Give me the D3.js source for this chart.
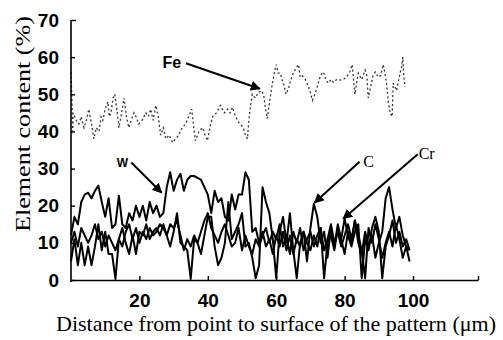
<!DOCTYPE html>
<html><head><meta charset="utf-8">
<script src="https://cdn.jsdelivr.net/npm/d3@7"></script>
<style>body{margin:0;background:#fff}svg{display:block}</style>
</head><body>
<svg id="c" width="503" height="340"></svg>
<script>
// ---- data ----
const yTicks = [0, 10, 20, 30, 40, 50, 60, 70];
const xTicks = [20, 40, 60, 80, 100];
const xLabel = "Distance from point to surface of the pattern (\u03bcm)";
const yLabel = "Element content (%)";

const feX = [0,0.3,0.5,0.6,1.5,2.3,3,3.8,4.5,5.2,6,6.7,7.4,8.2,8.8,9.3,10,10.8,11.2,11.7,12.3,12.8,13.4,14,14.8,15.5,16.2,16.9,17.6,18.4,19,19.8,20.8,21.9,22.6,23.3,24,24.8,25.5,26.2,27,27.7,28.7,29.7,30.6,31.5,32.5,33.5,34.4,35.3,35.9,36.4,37.4,38.5,39.2,39.9,40.6,41.4,42.5,43.7,44.8,45.8,46.5,47.2,48.1,
  49,50.4,51,51.6,52,52.5,53,53.9,54.8,55.6,56.3,56.9,57.4,58.2,58.9,59.5,60,60.6,61.2,61.7,62.1,62.9,63.6,64.3,65,65.8,66.5,67,67.5,68,68.5,69,69.8,70.6,71.3,72,72.9,73.8,74.5,75.2,76,76.7,77.7,78.7,79.7,80.8,81.5,82.2,82.6,83,83.5,84,85,86,86.5,86.9,87.6,88.3,89,89.8,90.5,91.3,91.9,92.4,92.7,93.3,93.9,94.2,95.2,96.2,96.6,97,97.3,97.7];
const feY = [56,48,40,45,43,42,44,41,43,46,42,38,41,40,44,43,46,48,44,45,49,50,46,41,45,49,44,41,43,45,44,42,43,45,44,46,43,47,44,39,41,38,39,37,38,39,41,42,44,46,41,37.5,40,41,39,37.5,41,44,45,47,45,46,45,46.5,44,
  42.5,41,39,38,43,47,50,49,50.5,51,50,46,43.5,49,53,56,58,55.7,55.7,54,53,50,51.6,54,55.7,57,58,54.6,55,54.6,54,53,51,48.4,50,52,55,56,54,53,54,53.2,54,53.8,54,55,56,58,54,50,53,55.7,54,56.5,55,49,52,55,56,54.6,55,58,55,52,48.4,45,44,53,51,55.7,57,60,55,52];

const dist = d3.range(0, 100, 1);
const wY = [12,17,15,21,23,23.5,22,24,25.4,21,17,22,14,15,22.7,15,14,18,16,20,17,20,16,21,18,20,17,18,25,29,24,27,28.6,24,27,28,28,27.5,27,25,23,18,24,21,22,17,16,23,19,23,23,29,27,13,14,10,13,9,11,7,12,9,13,8,12,7,11,9,13,10,8,12,9,14,8,11,15,10,13,9,12,15,11,16,10,7,13,9,12,6,10,13,22,25,19,14,17,12,9,8];
const cY = [5,11,4,10,4,9,4,9,15,8,13,7,7,0.3,11,14,10,7,12,7,13,12,15,11,13,14,12,15,12,9,13,18,10,9,8,0.3,11,10,7,12,17,17,9,4,6,10,21,11,13,15,18,9,10,6,0.5,4,25,21,18,11,0.5,13,17,10,18,8,0.5,10,13,5,14,20.5,17,10,13,6,14,9,15,11,7,13,10,16,12,8,0.5,14,10,15,11,6,10,13,9,15,11,6,9,5];
const crY = [10,13,9,14,12,10,12,15,11,13,9,12,10,8,11,9,13,15,11,14,10,13,11,14,12,13,15,14,12,15,14,16,12,8,11,9,12,10,13,16,18,14,12,10,13,15,12,9,10,14,8,12,9,7,11,9,12,14,10,13,11,15,9,12,7,13,10,14,8,11,13,9,12,14,0.5,10,12,8,14,11,16.5,12,9,13,15,0.5,11,8,14,17,13,0.5,9,12,16,10,13,9,11,8];

// annotations: [label, textX, textY, tipX, tipY] in data units
const notes = [
  ["Fe", 29.5, 57, 55.2, 51.5],
  ["W", 15, 30.3, 26.5, 23.5],
  ["C", 87, 30.5, 71.2, 20.8],
  ["Cr", 104, 32.5, 79.6, 16.5]
];

// ---- chart ----
const svg = d3.select("#c");
const x = d3.scaleLinear().domain([0, 119]).range([71, 478]);
const y = d3.scaleLinear().domain([0, 70]).range([280, 20]);

svg.append("defs").append("marker")
  .attr("id", "ah").attr("viewBox", "0 0 10 10").attr("refX", 9).attr("refY", 5)
  .attr("markerWidth", 5).attr("markerHeight", 5).attr("orient", "auto")
  .append("path").attr("d", "M0,0L10,5L0,10z").attr("fill", "#000");

const line = d3.line().x(d => x(d[0])).y(d => y(d[1]));

// Fe dotted
svg.append("path").datum(feX.map((v, i) => [v, feY[i]]))
  .attr("d", line).attr("fill", "none").attr("stroke", "#333")
  .attr("stroke-width", 1.3).attr("stroke-dasharray", "2,2.5");

[wY, cY, crY].forEach(arr => {
  svg.append("path").datum(dist.map((v, i) => [v, arr[i]]))
    .attr("d", line).attr("fill", "none").attr("stroke", "#000")
    .attr("stroke-width", 2).attr("stroke-linejoin", "round");
});

// axes
const tickFont = "'Liberation Sans Narrow','Liberation Sans',Arial,sans-serif";
const serif = "'Liberation Serif','Times New Roman',serif";
const ya = svg.append("g").attr("transform", `translate(${x(0)},0)`)
  .call(d3.axisLeft(y).tickValues(yTicks).tickSizeInner(-4).tickSizeOuter(0).tickPadding(12));
const xa = svg.append("g").attr("transform", `translate(0,${y(0)})`)
  .call(d3.axisBottom(x).tickValues(xTicks.concat([119])).tickFormat(d => d === 119 ? "" : d).tickSizeInner(-4).tickSizeOuter(0).tickPadding(14));
[ya, xa].forEach(g => {
  g.select(".domain").attr("stroke", "#000").attr("stroke-width", 1.6);
  g.selectAll(".tick line").attr("stroke", "#000").attr("stroke-width", 1.4);
  g.selectAll("text").attr("font-family", tickFont).attr("font-weight", "bold")
    .attr("font-size", 19).attr("fill", "#000");
});
ya.select(".domain").attr("d", `M0,${y(70)}V${y(0) + 2}`);
ya.selectAll(".tick").filter(d => d === 70).select("line").attr("x2", 5);

// axis titles
svg.append("text").attr("x", 276).attr("y", 331).attr("text-anchor", "middle")
  .attr("font-family", serif).attr("font-size", 22)
  .attr("textLength", 440).attr("lengthAdjust", "spacingAndGlyphs")
  .attr("fill", "#000").text(xLabel);
svg.append("text").attr("transform", "translate(30,124) rotate(-90)").attr("text-anchor", "middle")
  .attr("font-family", serif).attr("font-size", 21)
  .attr("textLength", 216).attr("lengthAdjust", "spacingAndGlyphs")
  .attr("fill", "#000").text(yLabel);

// annotations
notes.forEach(([t, tx, ty, ax, ay]) => {
  const isBoldSans = (t === "Fe" || t === "W");
  svg.append("text").attr("x", x(tx)).attr("y", y(ty)).attr("text-anchor", "middle")
    .attr("font-family", isBoldSans ? tickFont : serif)
    .attr("font-weight", isBoldSans ? "bold" : "normal")
    .attr("font-size", t === "W" ? 12 : 16).attr("fill", "#000").text(t);
  const sx = x(tx) + (t === "Fe" ? 14 : t === "W" ? 9 : -9);
  const sy = y(ty) - 5;
  svg.append("line").attr("x1", sx).attr("y1", sy).attr("x2", x(ax)).attr("y2", y(ay))
    .attr("stroke", "#000").attr("stroke-width", 2).attr("marker-end", "url(#ah)");
});
</script>
</body></html>
